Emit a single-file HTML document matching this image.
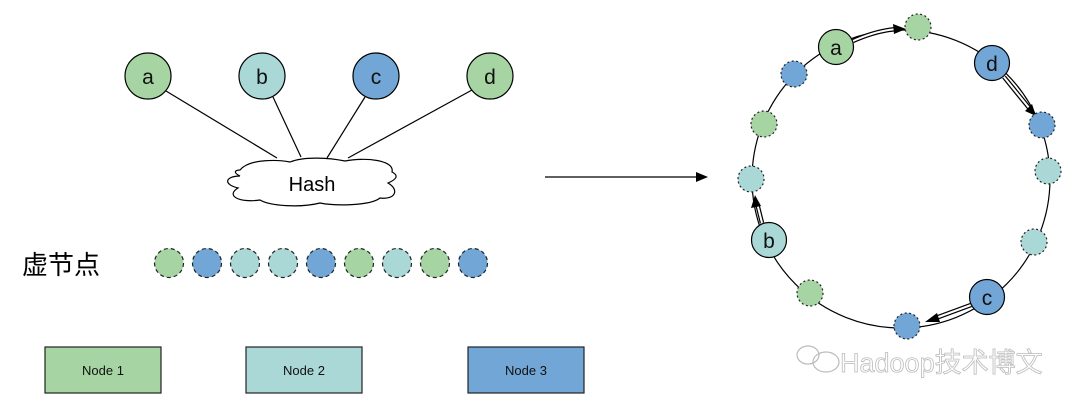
<!DOCTYPE html>
<html><head><meta charset="utf-8"><style>
html,body{margin:0;padding:0;background:#fff;}
svg{display:block;}
text{font-family:"Liberation Sans","Noto Sans CJK SC",sans-serif;}
</style></head><body>
<svg width="1080" height="412" viewBox="0 0 1080 412" xmlns="http://www.w3.org/2000/svg">
<g stroke="#000" stroke-width="1.2">
<line x1="166" y1="91" x2="277" y2="158"/>
<line x1="273" y1="97" x2="301" y2="157"/>
<line x1="365" y1="97" x2="327" y2="158"/>
<line x1="472" y1="90" x2="348" y2="158"/>
</g>
<g stroke="#000" stroke-width="1.2">
<circle cx="148" cy="76" r="23" fill="#a6d5a3"/>
<circle cx="262" cy="76" r="23" fill="#a9d8d6"/>
<circle cx="376" cy="76" r="23" fill="#72a6d6"/>
<circle cx="490" cy="76" r="23" fill="#a6d5a3"/>
</g>
<g font-size="21" text-anchor="middle" fill="#111">
<text x="148" y="84">a</text><text x="262" y="84">b</text><text x="376" y="84">c</text><text x="490" y="84">d</text>
</g>
<path d="M240,170 C250,158 280,160 290,162 C305,156 330,158 345,161 C365,157 395,160 392,172 C400,176 395,180 388,183 C400,190 395,200 380,198 C370,206 335,206 320,203 C300,208 270,206 260,200 C240,203 225,196 238,188 C222,184 226,176 240,176 C232,172 236,170 240,170 Z" fill="#fff" stroke="#000" stroke-width="1.2"/>
<text x="312" y="191" font-size="20" text-anchor="middle">Hash</text>
<line x1="545" y1="177" x2="698" y2="177" stroke="#000" stroke-width="1.2"/>
<polygon points="708,177 696,172 696,182" fill="#000"/>
<text x="22" y="274" font-size="26">虚节点</text>
<g stroke="#222" stroke-width="1.2" stroke-dasharray="4,3">
<circle cx="169" cy="263" r="14.5" fill="#a6d5a3"/>
<circle cx="207" cy="263" r="14.5" fill="#72a6d6"/>
<circle cx="245" cy="263" r="14.5" fill="#a9d8d6"/>
<circle cx="283" cy="263" r="14.5" fill="#a9d8d6"/>
<circle cx="321" cy="263" r="14.5" fill="#72a6d6"/>
<circle cx="359" cy="263" r="14.5" fill="#a6d5a3"/>
<circle cx="397" cy="263" r="14.5" fill="#a9d8d6"/>
<circle cx="435" cy="263" r="14.5" fill="#a6d5a3"/>
<circle cx="473" cy="263" r="14.5" fill="#72a6d6"/>
</g>
<g stroke="#222" stroke-width="1.2">
<rect x="45" y="347" width="116" height="46" fill="#a6d5a3"/>
<rect x="246" y="347" width="116" height="46" fill="#a9d8d6"/>
<rect x="468" y="347" width="116" height="46" fill="#72a6d6"/>
</g>
<g font-size="13" text-anchor="middle" fill="#111">
<text x="103" y="375">Node 1</text><text x="304" y="375">Node 2</text><text x="526" y="375">Node 3</text>
</g>
<circle cx="901" cy="179" r="149" fill="none" stroke="#000" stroke-width="1.2"/>
<g fill="none" stroke-linecap="butt">
<path d="M853,41 Q878,30 898,29" stroke="#000" stroke-width="4.5"/>
<path d="M853,41 Q878,30 898,29" stroke="#fff" stroke-width="2"/>
<path d="M1004,77 L1030,109" stroke="#000" stroke-width="4.5"/>
<path d="M1004,77 L1030,109" stroke="#fff" stroke-width="2"/>
<path d="M971,305 L933,319" stroke="#000" stroke-width="4.5"/>
<path d="M971,305 L933,319" stroke="#fff" stroke-width="2"/>
<path d="M762,223 L757,203" stroke="#000" stroke-width="4.5"/>
<path d="M762,223 L757,203" stroke="#fff" stroke-width="2"/>
</g>
<polygon points="906,29 893,24 894,34" fill="#000"/>
<polygon points="1036,116 1025,111 1032,104" fill="#000"/>
<polygon points="925,322 937,313 940,322" fill="#000"/>
<polygon points="755,195 751,208 761,206" fill="#000"/>
<g stroke="#222" stroke-width="1.2" stroke-dasharray="2,2.5">
<circle cx="918" cy="27" r="13" fill="#a6d5a3"/>
<circle cx="1042" cy="125" r="13" fill="#72a6d6"/>
<circle cx="1048" cy="171" r="13" fill="#a9d8d6"/>
<circle cx="1034" cy="242" r="13" fill="#a9d8d6"/>
<circle cx="907" cy="326" r="13" fill="#72a6d6"/>
<circle cx="810" cy="293" r="13" fill="#a6d5a3"/>
<circle cx="751" cy="179" r="13" fill="#a9d8d6"/>
<circle cx="764" cy="124" r="13" fill="#a6d5a3"/>
<circle cx="794" cy="74" r="13" fill="#72a6d6"/>
</g>
<g stroke="#000" stroke-width="1.2">
<circle cx="836" cy="47" r="17.5" fill="#a6d5a3"/>
<circle cx="992" cy="63" r="17.5" fill="#72a6d6"/>
<circle cx="987" cy="297" r="17.5" fill="#72a6d6"/>
<circle cx="769" cy="240" r="17.5" fill="#a9d8d6"/>
</g>
<g font-size="21" text-anchor="middle" fill="#111">
<text x="836" y="55">a</text><text x="992" y="71">d</text><text x="987" y="305">c</text><text x="769" y="248">b</text>
</g>
<g fill="none" stroke="#bbb" stroke-width="1.2">
<ellipse cx="808" cy="355" rx="11" ry="9"/>
<ellipse cx="826" cy="362" rx="13" ry="10"/>
</g>
<text x="840" y="372" font-size="27" fill="#fff" stroke="#bbb" stroke-width="0.8">Hadoop技术博文</text>
</svg>
</body></html>
